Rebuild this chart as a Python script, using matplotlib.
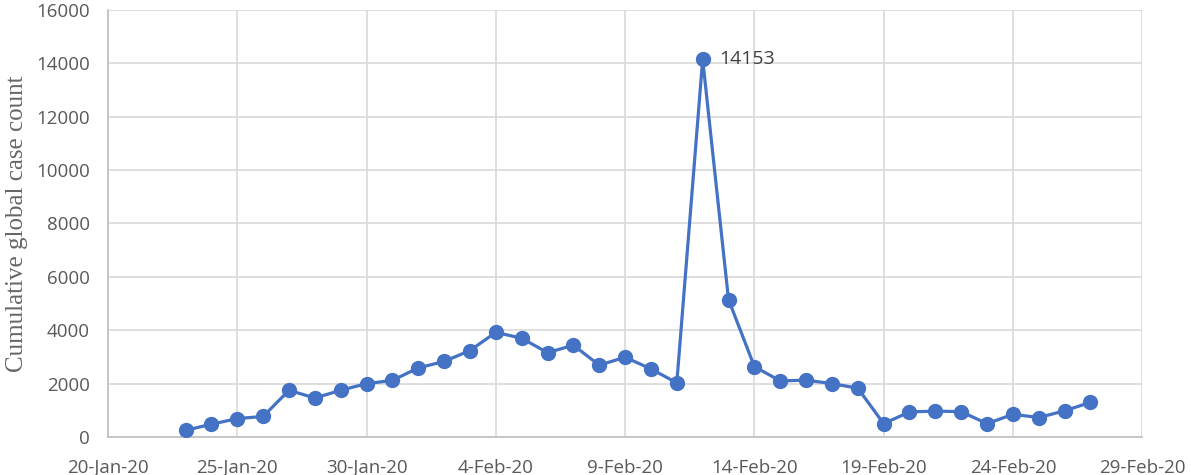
import matplotlib
matplotlib.use("Agg")
import matplotlib.pyplot as plt
import numpy as np
import datetime as dt

start_date = "2020-01-23"
end_date = "2020-02-27"
daily_cases = [250, 480, 690, 770, 1750, 1460, 1750, 2000, 2120, 2590,
               2830, 3240, 3920, 3700, 3160, 3440, 2690, 2990, 2550, 2030,
               14153, 5150, 2640, 2100, 2130, 2000, 1830, 500, 940, 970,
               950, 500, 850, 730, 980, 1300]
peak_label = "14153"
y_label = "Cumulative global case count"
x_tick_dates = ["2020-01-20", "2020-01-25", "2020-01-30", "2020-02-04", "2020-02-09",
                "2020-02-14", "2020-02-19", "2020-02-24", "2020-02-29"]
y_ticks = [0, 2000, 4000, 6000, 8000, 10000, 12000, 14000, 16000]

dates = np.arange(np.datetime64(start_date), np.datetime64(end_date) + 1).astype("datetime64[D]").astype(dt.datetime)
xt = [dt.datetime.fromisoformat(d) for d in x_tick_dates]

fig = plt.figure(figsize=(11.91, 4.75), dpi=100)
ax = fig.add_axes([0.0907, 0.08, 0.959 - 0.0907, 0.979 - 0.08])

blue = "#4472C4"
grid_c = "#D9D9D9"
text_c = "#595959"

ax.plot(dates, daily_cases, color=blue, lw=2.3, marker="o", ms=10, zorder=3)

ax.set_xlim(xt[0], xt[-1])
ax.set_ylim(y_ticks[0], y_ticks[-1])
ax.set_xticks(xt)
ax.set_xticklabels([d.strftime("%-d-%b-%y") for d in xt])
ax.set_yticks(y_ticks)

ax.grid(True, color=grid_c, lw=1.2, zorder=0)
for s in ["top", "right"]:
    ax.spines[s].set_visible(False)
for s in ["left", "bottom"]:
    ax.spines[s].set_color("#BFBFBF")
    ax.spines[s].set_linewidth(1.2)

ax.tick_params(axis="y", length=0, labelsize=13.5, labelcolor=text_c, pad=13)
ax.tick_params(axis="x", length=0, labelsize=13.5, labelcolor=text_c, pad=16)
for lab in ax.get_xticklabels() + ax.get_yticklabels():
    lab.set_family("Open Sans")

ax.set_ylabel(y_label, family="Liberation Serif", fontsize=18, color="#666666", labelpad=6)

i_peak = int(np.argmax(daily_cases))
ax.annotate(peak_label, (dates[i_peak], daily_cases[i_peak]), xytext=(12, 0),
            textcoords="offset points", va="center", ha="left",
            fontsize=14, color="#404040", family="Open Sans")

fig.savefig("out.png", dpi=100)
